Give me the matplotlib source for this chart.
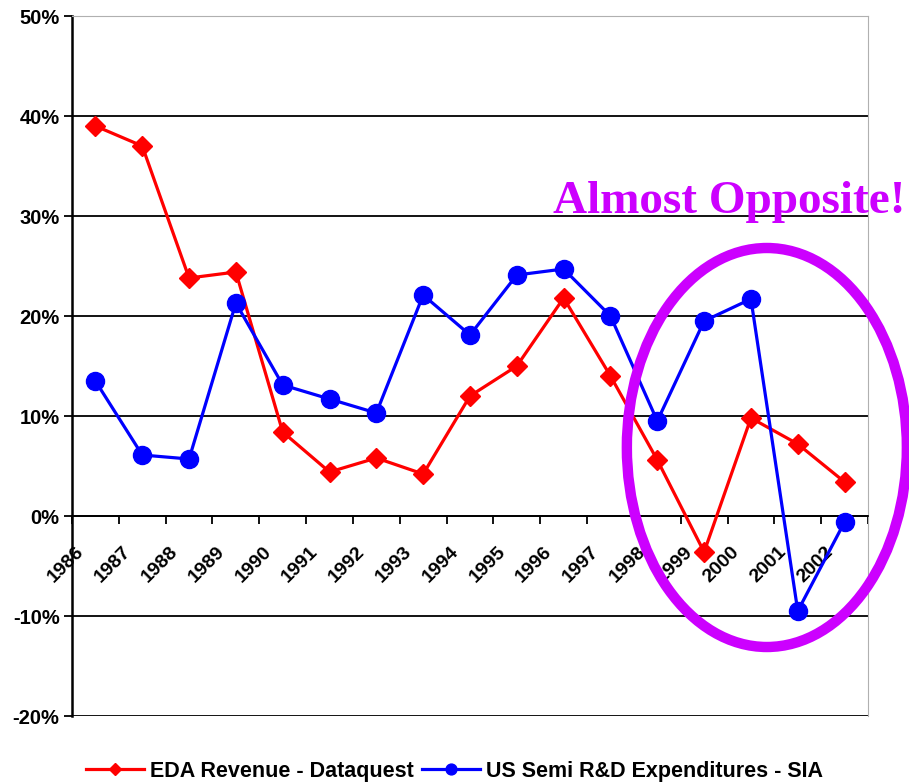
import numpy as np
import matplotlib.pyplot as plt
from matplotlib.patches import Ellipse
from matplotlib.transforms import ScaledTranslation

years = ['1986', '1987', '1988', '1989', '1990', '1991', '1992', '1993', '1994',
         '1995', '1996', '1997', '1998', '1999', '2000', '2001', '2002']
eda_revenue = [39.0, 37.0, 23.8, 24.4, 8.4, 4.4, 5.8, 4.2, 12.0,
               15.0, 21.8, 14.0, 5.6, -3.6, 9.8, 7.2, 3.4]
semi_rd = [13.5, 6.1, 5.7, 21.3, 13.1, 11.7, 10.3, 22.1, 18.1,
           24.1, 24.7, 20.0, 9.5, 19.5, 21.7, -9.5, -0.6]
y_ticks = [-20, -10, 0, 10, 20, 30, 40, 50]

plt.rcParams['font.family'] = ['Liberation Sans', 'DejaVu Sans']
plt.rcParams['font.weight'] = 'bold'

fig = plt.figure(figsize=(9.09, 7.83), dpi=100)
ax = fig.add_axes([72/909, 1-716/783, (868-72)/909, (716-16)/783])

x = np.arange(len(years))
ax.plot(x, eda_revenue, color='#FF0000', lw=2.3, marker='D', ms=10.5,
        label='EDA Revenue - Dataquest', zorder=4, clip_on=False)
ax.plot(x, semi_rd, color='#0000FF', lw=2.3, marker='o', ms=13,
        label='US Semi R&D Expenditures - SIA', zorder=4, clip_on=False)

ax.set_xlim(-0.5, len(years) - 0.5)
ax.set_ylim(-20, 50)

# horizontal gridlines
for v in y_ticks[:-1]:
    ax.axhline(v, color='black', lw=1.3, zorder=1)
ax.set_yticks(y_ticks)
ax.set_yticklabels([f'{v}%' for v in y_ticks], fontsize=14.5, fontweight='bold')
ax.tick_params(axis='y', direction='out', length=6, width=1.3, pad=3)

# x axis crossing at 0, ticks between categories
ax.spines['bottom'].set_position(('data', 0))
ax.spines['bottom'].set_linewidth(1.3)
ax.spines['left'].set_linewidth(1.8)
ax.spines['top'].set_color('#b0b0b0')
ax.spines['right'].set_color('#b0b0b0')
ax.set_xticks(np.arange(-0.5, len(years), 1))
ax.set_xticklabels([])
ax.tick_params(axis='x', which='major', direction='out', length=6, width=1.3)
ax.set_xticks(x, minor=True)
ax.set_xticklabels(years, minor=True, rotation=45, ha='right', va='center',
                   rotation_mode='anchor', fontsize=14, fontweight='bold')
ax.tick_params(axis='x', which='minor', length=0, pad=24)
for lab in ax.get_xticklabels(minor=True):
    lab.set_transform(lab.get_transform() + ScaledTranslation(-14/100, 0, fig.dpi_scale_trans))

# highlight ellipse and annotation
ell = Ellipse((14.34, 6.85), 5.98, 39.9, fill=False, edgecolor='#CC00FF',
              lw=7.5, clip_on=False, zorder=5)
ax.add_patch(ell)
fig.text(729/909, 1-202/783, 'Almost Opposite!', color='#CC00FF',
         family=['Liberation Serif', 'DejaVu Serif'], fontweight='bold',
         fontsize=34, ha='center', va='center')

fig.legend(loc='center', bbox_to_anchor=(0.5, 1-771/783), ncol=2, frameon=False,
           handlelength=2.7, columnspacing=0.35, handletextpad=0.3, markerscale=0.6,
           prop={'weight': 'bold', 'size': 15.5})

fig.savefig('out.png', dpi=100)
